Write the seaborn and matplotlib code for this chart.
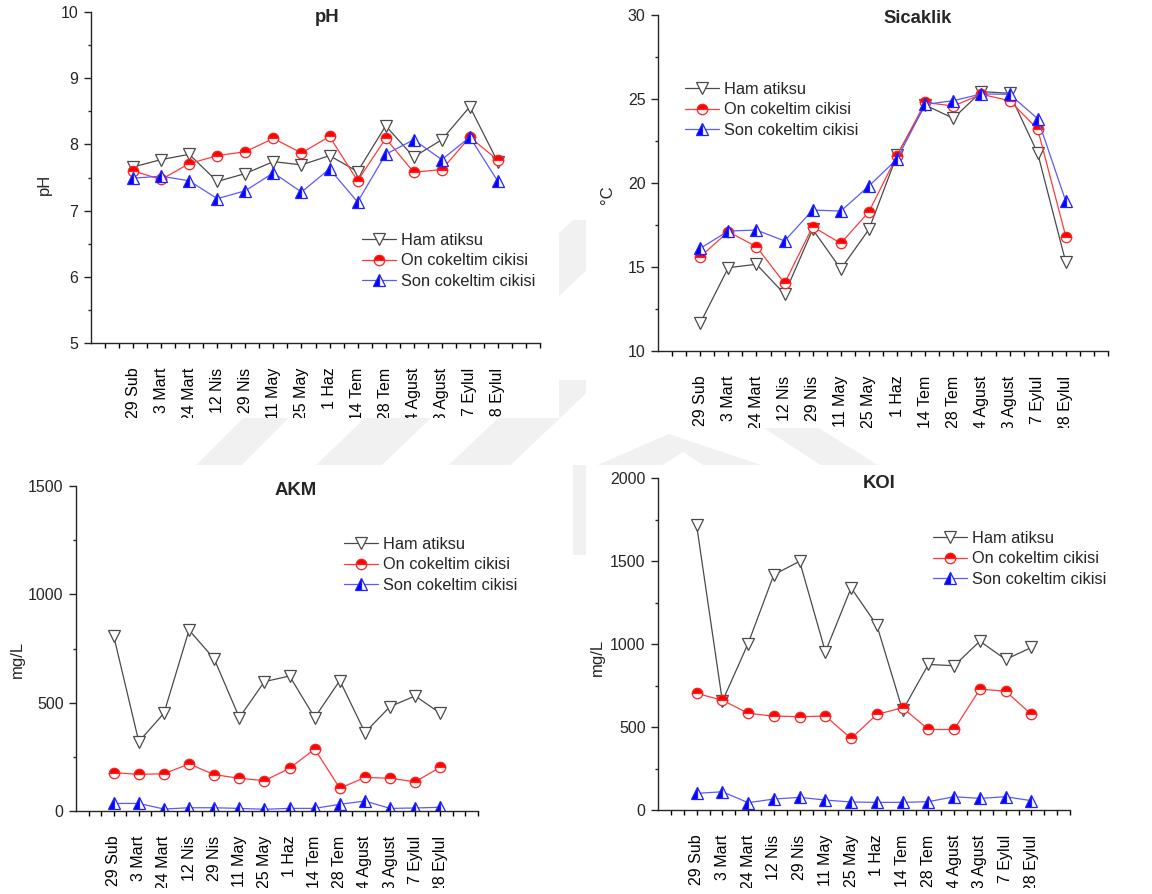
import numpy as np
import matplotlib
matplotlib.use("Agg")
import matplotlib.pyplot as plt
from matplotlib.patches import Polygon, Rectangle
from matplotlib.transforms import Bbox, TransformedBbox
from matplotlib.ticker import FixedLocator, MultipleLocator
import seaborn as sns

# Sampling dates
dates = ["29 Sub", "3 Mart", "24 Mart", "12 Nis", "29 Nis", "11 May", "25 May",
         "1 Haz", "14 Tem", "28 Tem", "14 Agust", "23 Agust", "7 Eylul", "28 Eylul"]

series_names = ["Ham atiksu", "On cokeltim cikisi", "Son cokeltim cikisi"]

# pH
ph_ham = [7.66, 7.77, 7.85, 7.44, 7.56, 7.74, 7.69, 7.83, 7.59, 8.28, 7.81, 8.07, 8.57, 7.73]
ph_on = [7.60, 7.47, 7.71, 7.83, 7.89, 8.09, 7.87, 8.12, 7.45, 8.09, 7.58, 7.62, 8.11, 7.76]
ph_son = [7.49, 7.52, 7.45, 7.18, 7.30, 7.57, 7.28, 7.63, 7.13, 7.85, 8.07, 7.77, 8.11, 7.44]

# Temperature (°C)
temp_ham = [11.65, 14.96, 15.16, 13.39, 17.24, 14.88, 17.24, 21.67, 24.64, 23.85, 25.44, 25.34, 21.77, 15.28]
temp_on = [15.61, 17.10, 16.21, 14.03, 17.40, 16.41, 18.29, 21.63, 24.80, 24.58, 25.28, 24.90, 23.21, 16.81]
temp_son = [16.11, 17.14, 17.20, 16.55, 18.39, 18.33, 19.82, 21.43, 24.68, 24.90, 25.30, 25.28, 23.83, 18.91]

# AKM (mg/L)
akm_ham = [808, 320, 451, 835, 702, 431, 597, 623, 431, 602, 362, 482, 531, 451]
akm_on = [177, 169, 172, 217, 168, 151, 140, 197, 286, 105, 155, 151, 135, 202]
akm_son = [35, 35, 9, 15, 15, 12, 8, 12, 12, 31, 46, 12, 14, 17]

# KOI (mg/L)
koi_ham = [1715, 655, 1003, 1418, 1498, 953, 1338, 1113, 600, 877, 869, 1017, 907, 979]
koi_on = [702, 662, 582, 566, 562, 566, 431, 576, 616, 485, 485, 728, 716, 576]
koi_son = [100, 110, 44, 66, 76, 60, 48, 46, 46, 50, 80, 70, 80, 56]

sns.set_style("ticks")
plt.rcParams["font.family"] = ["Liberation Sans", "DejaVu Sans"]
plt.rcParams["axes.linewidth"] = 1.0

W, H = 1152, 894
fig = plt.figure(figsize=(W / 100, H / 100), dpi=100)
fig.patch.set_facecolor("white")


def px_pt(x, y):
    return (x / W, 1 - y / H)


def fig_poly(points, color, z):
    p = Polygon([px_pt(x, y) for x, y in points], closed=True, transform=fig.transFigure,
                facecolor=color, edgecolor="none", zorder=z)
    fig.patches.append(p)


def stripe(xa, xb, k, y0, y1, yref=441):
    return [(xa + k * (yref - y0), y0), (xb + k * (yref - y0), y0),
            (xb + k * (yref - y1), y1), (xa + k * (yref - y1), y1)]


# faint background logo
mark = "#f1f1f1"
fig_poly(stripe(220, 266, 1.0, 380, 480), mark, -3)
fig_poly(stripe(341, 407, 1.05, 220, 480), mark, -3)
fig_poly(stripe(474, 536, 1.05, 380, 480), mark, -3)
fig_poly([(669, 434), (776, 470), (586, 470)], mark, -3)
fig_poly([(683, 452), (711, 470), (655, 470)], "white", -2.9)
fig_poly([(758, 424), (812, 424), (886, 470), (828, 470)], mark, -3)
fig_poly([(560, 465), (600, 465), (600, 555), (560, 555)], mark, -3)

# white panel backgrounds (left, top, right, bottom in pixels)
panels = {
    "ph": (0, 0, 559, 418),
    "temp": (586, 0, 1152, 428),
    "akm": (0, 465, 573, 888),
    "koi": (586, 465, 1152, 888),
}
for (l, t, r, b) in panels.values():
    fig.patches.append(Rectangle(px_pt(l, b), (r - l) / W, (b - t) / H,
                                 transform=fig.transFigure, facecolor="white",
                                 edgecolor="none", zorder=-2))

FS_TICK = 11.5
FS_LEG = 11.8
FS_TITLE = 13.3

styles = [
    dict(color="#4a4a4a", marker="v", markersize=8.5, markerfacecolor="white",
         markeredgecolor="#4a4a4a", fillstyle="full"),
    dict(color="#ff3a3a", marker="o", markersize=7.5, markerfacecolor="#ff0000",
         markerfacecoloralt="white", markeredgecolor="#ff2020", fillstyle="top"),
    dict(color="#5a5aff", marker="^", markersize=8.5, markerfacecolor="#0000ff",
         markerfacecoloralt="white", markeredgecolor="#2020ff", fillstyle="left"),
]

xpos = np.arange(len(dates))


def make_panel(box, values, ylim, ymajor, yminor, title, title_pos, ylabel, ylabel_pos,
               legend_px, panel_key):
    l, t, r, b = box
    ax = fig.add_axes([l / W, 1 - b / H, (r - l) / W, (b - t) / H])
    ax.set_facecolor("none")
    for name, vals, st in zip(series_names, values, styles):
        sns.lineplot(x=xpos, y=vals, ax=ax, sort=False, errorbar=None, linewidth=0.9,
                     markeredgewidth=0.9, label=name, legend=False, **st)
    ax.set_xlim(-1.5, 14.5)
    ax.set_ylim(*ylim)
    sns.despine(ax=ax)

    ax.xaxis.set_major_locator(FixedLocator(xpos))
    ax.set_xticklabels(dates, rotation=90, fontsize=FS_TICK)
    minor_x = [v for v in np.arange(-1.0, 14.51, 0.5) if not (0 <= v <= 13 and v == int(v))]
    ax.xaxis.set_minor_locator(FixedLocator(minor_x))
    ax.tick_params(axis="x", which="both", direction="out", length=3.8, width=1.0,
                   pad=14, colors="black")

    ax.yaxis.set_major_locator(MultipleLocator(ymajor))
    ax.yaxis.set_minor_locator(MultipleLocator(yminor))
    ax.tick_params(axis="y", which="major", direction="out", length=5, width=1.0,
                   pad=4, labelsize=FS_TICK)
    ax.tick_params(axis="y", which="minor", direction="out", length=2, width=1.0)
    ax.set_xlabel("")
    ax.set_ylabel(ylabel, fontsize=12)
    ax.yaxis.set_label_coords(*ylabel_pos)

    ax.text(title_pos[0], title_pos[1], title, transform=ax.transAxes, ha="center",
            va="center", fontsize=FS_TITLE, fontweight="bold")

    handles = ax.get_lines()[:3]
    ax.legend(handles, series_names, loc="upper left",
              bbox_to_anchor=px_pt(*legend_px), bbox_transform=fig.transFigure,
              frameon=False, fontsize=FS_LEG, handlelength=2.1, handletextpad=0.3,
              labelspacing=0.33, borderpad=0, borderaxespad=0, numpoints=1)

    # tick labels run past the panel edge and are cut there
    pl, pt, pr, pb = panels[panel_key]
    clip = TransformedBbox(Bbox.from_extents(pl / W, 1 - pb / H, pr / W, 1 - pt / H),
                           fig.transFigure)
    for lab in ax.get_xticklabels():
        lab.set_clip_box(clip)
        lab.set_clip_on(True)
    return ax


make_panel((91, 12, 540, 343), [ph_ham, ph_on, ph_son], (5, 10), 1, 0.5, "pH",
           (0.526, 1 - 5 / 331), "pH", (-0.088, 0.48), (362, 233), "ph")
make_panel((658, 15, 1108, 351), [temp_ham, temp_on, temp_son], (10, 30), 5, 2.5,
           "Sicaklik", (0.578, 1 - 4 / 336), "°C", (-0.095, 0.465), (685, 82), "temp")
make_panel((76, 486, 478, 811), [akm_ham, akm_on, akm_son], (0, 1500), 500, 250,
           "AKM", (0.547, 1 - 4 / 325), "mg/L", (-0.128, 0.465), (344, 537), "akm")
make_panel((658, 478, 1070, 810), [koi_ham, koi_on, koi_son], (0, 2000), 500, 250,
           "KOI", (0.536, 1 - 5 / 332), "mg/L", (-0.13, 0.46), (933, 531), "koi")

fig.savefig("out.png", dpi=100)
